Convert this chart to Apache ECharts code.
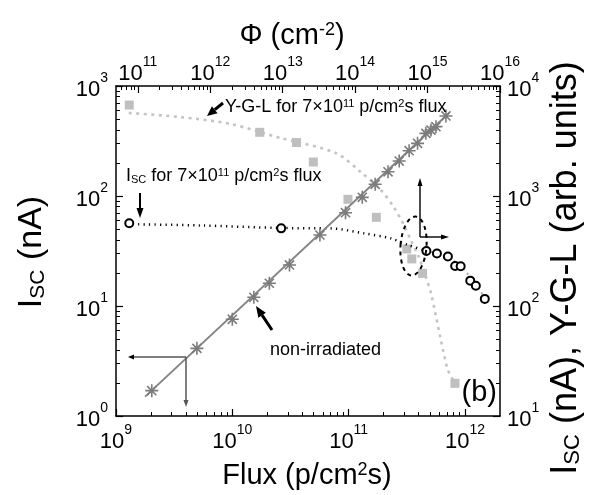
<!DOCTYPE html>
<html><head><meta charset="utf-8">
<script src="https://cdn.jsdelivr.net/npm/echarts@6/dist/echarts.min.js"></script>
<style>html,body{margin:0;padding:0;background:#fff}#c{width:589px;height:495px}</style>
</head><body><div id="c"></div>
<script>
const FF = 'Liberation Sans, Arial, sans-serif';

// ---- data ----
// non-irradiated Isc (asterisks), left axis
const fluxNonIrr = [2.03e9, 4.96e9, 1.0e10, 1.53e10, 2.08e10, 3.1e10, 5.66e10, 9.4e10, 1.31e11, 1.69e11, 2.18e11, 2.72e11, 3.31e11, 3.91e11, 4.61e11, 5.1e11, 5.63e11, 6.86e11];
const iscNonIrr  = [1.70, 4.12, 7.57, 12.0, 16.1, 23.6, 44.2, 70.5, 97.2, 127.7, 166, 208, 258, 301, 371, 398, 427, 534];
// linear fit through the non-irradiated points
const fitFlux = [1.78e9, 7.3e11];
const fitIsc  = [1.5, 569];
// Isc for 7x10^11 p/cm2s flux (open circles), left axis
const fluxIrr = [1.30e9, 2.63e10, 4.66e11, 5.74e11, 7.13e11, 8.23e11, 9.18e11, 1.11e12, 1.24e12, 1.48e12];
const iscIrr  = [56.5, 50.8, 31.6, 30.0, 28.2, 23.1, 23.0, 17.0, 15.3, 11.6];
// guide curve for Isc (black dotted) and its tail (grey dotted)
const iscGuideFlux = [1.55e9, 5.3e9, 2.59e10, 7.0e10, 1.35e11, 2.3e11, 3.23e11, 4.61e11];
const iscGuideVal  = [55.3, 54.0, 51.2, 50.8, 45.8, 41.2, 35.9, 31.8];
const iscTailFlux  = [4.61e11, 7.13e11, 1.02e12, 1.49e12];
const iscTailVal   = [31.8, 27.9, 20.4, 11.8];
// Y-G-L (grey squares), right axis
const fluxYGL = [1.30e9, 1.72e10, 3.56e10, 4.97e10, 9.86e10, 1.73e11, 3.16e11, 3.49e11, 4.32e11, 8.2e11];
const ygl     = [6710, 3793, 3061, 2037, 933, 640, 330, 268, 198, 19.8];
// guide curve for Y-G-L (grey dotted)
const yglGuideFlux = [1.29e9, 3.56e9, 9.6e9, 2.59e10, 7.73e10, 1.27e11, 1.89e11, 2.44e11, 2.92e11, 3.42e11, 4.01e11, 4.61e11, 5.1e11, 6.21e11, 7.13e11, 8.2e11];
const yglGuideVal  = [5690, 5220, 4520, 3368, 2460, 1652, 1135, 794, 569, 398, 279, 183, 131, 49, 26.2, 19.9];

// ---- axes ----
const bottomRange = [1e9, 2e12];
const topRange = [5e10, 1e16];
const leftRange = [1, 1000];
const rightRange = [10, 10000];
const bottomTicks = [1e9, 1e10, 1e11, 1e12];
const topTicks = [1e11, 1e12, 1e13, 1e14, 1e15, 1e16];
const leftTicks = [1, 10, 100, 1000];
const rightTicks = [10, 100, 1000, 10000];

function minors(lo, hi) {
  const out = [];
  for (let e = Math.floor(Math.log10(lo)) - 1; e <= Math.ceil(Math.log10(hi)); e++) {
    for (let k = 2; k <= 9; k++) {
      const v = k * Math.pow(10, e);
      if (v > lo * 1.0001 && v < hi * 0.9999) out.push(v);
    }
  }
  return out;
}
const supFmt = v => '{b|10}{s|' + Math.round(Math.log10(v)) + '}';
const richLab = {
  b: {fontSize: 22, fontFamily: FF, color: '#000', lineHeight: 30, verticalAlign: 'bottom'},
  s: {fontSize: 14, fontFamily: FF, color: '#000', lineHeight: 12, verticalAlign: 'top'}
};

function axesPair(pos, range, major, margin) {
  const base = {type: 'log', position: pos, min: range[0], max: range[1], gridIndex: 0,
    splitLine: {show: false}, minorTick: {show: false}, minorSplitLine: {show: false}};
  const a = Object.assign({}, base, {
    axisLine: {show: true, lineStyle: {color: '#000', width: 1.5}},
    axisTick: {show: true, inside: true, length: 7, customValues: major, lineStyle: {color: '#000', width: 1.2}},
    axisLabel: {show: true, customValues: major, formatter: supFmt, rich: richLab, margin: margin}
  });
  const b = Object.assign({}, base, {
    axisLine: {show: false},
    axisTick: {show: true, inside: true, length: 4, customValues: minors(range[0], range[1]), lineStyle: {color: '#000', width: 1}},
    axisLabel: {show: false}
  });
  return [a, b];
}

const xAxes = [...axesPair('bottom', bottomRange, bottomTicks, 7), ...axesPair('top', topRange, topTicks, 1)];
const yAxes = [...axesPair('left', leftRange, leftTicks, 8), ...axesPair('right', rightRange, rightTicks, 7)];

const zip = (a, b) => a.map((v, i) => [v, b[i]]);
const star = 'path://M0 5 L10 5 M5 0 L5 10 M1.5 1.5 L8.5 8.5 M8.5 1.5 L1.5 8.5';

const series = [
  {type: 'line', xAxisIndex: 0, yAxisIndex: 2, data: zip(yglGuideFlux, yglGuideVal), smooth: 0.3,
   showSymbol: false, lineStyle: {color: '#c4c4c4', width: 2.6, type: [3, 4.5]}, z: 1},
  {type: 'line', xAxisIndex: 0, yAxisIndex: 2, data: zip(fluxYGL, ygl), symbol: 'rect', symbolSize: 9,
   itemStyle: {color: '#bfbfbf'}, lineStyle: {width: 0}, z: 2},
  {type: 'line', xAxisIndex: 0, yAxisIndex: 0, data: zip(iscGuideFlux, iscGuideVal), smooth: 0.3,
   showSymbol: false, lineStyle: {color: '#000', width: 2.5, type: [1.2, 4.3]}, z: 3},
  {type: 'line', xAxisIndex: 0, yAxisIndex: 0, data: zip(iscTailFlux, iscTailVal), smooth: 0.3,
   showSymbol: false, lineStyle: {color: '#b0b0b0', width: 2, type: [2, 4]}, z: 3},
  {type: 'line', xAxisIndex: 0, yAxisIndex: 0, data: zip(fitFlux, fitIsc), showSymbol: false,
   lineStyle: {color: '#858585', width: 2}, z: 4},
  {type: 'line', xAxisIndex: 0, yAxisIndex: 0, data: zip(fluxNonIrr, iscNonIrr), symbol: star, symbolSize: 13,
   itemStyle: {color: 'rgba(0,0,0,0)', borderColor: '#7c7c7c', borderWidth: 1.6}, lineStyle: {width: 0}, z: 5},
  {type: 'line', xAxisIndex: 0, yAxisIndex: 0, data: zip(fluxIrr, iscIrr), symbol: 'emptyCircle', symbolSize: 8,
   itemStyle: {color: '#000', borderColor: '#000', borderWidth: 1.5}, lineStyle: {width: 0}, z: 6}
];

function arrow(x1, y1, x2, y2, color, w, hl, hw) {
  const ang = Math.atan2(y2 - y1, x2 - x1);
  const bx = x2 - hl * Math.cos(ang), by = y2 - hl * Math.sin(ang);
  const px = -Math.sin(ang) * hw / 2, py = Math.cos(ang) * hw / 2;
  return [
    {type: 'line', shape: {x1: x1, y1: y1, x2: bx, y2: by}, style: {stroke: color, lineWidth: w}, z: 100},
    {type: 'polygon', shape: {points: [[x2, y2], [bx + px, by + py], [bx - px, by - py]]}, style: {fill: color}, z: 100}
  ];
}
const txt = (x, y, rich, size, extra) => Object.assign({type: 'text', x: x, y: y, z: 100,
  style: Object.assign({text: rich.text, rich: rich.rich, fontSize: size, fontFamily: FF, fill: '#000'}, extra || {})});

const ann = (size) => ({
  a: {fontSize: size, fontFamily: FF, color: '#000'},
  s: {fontSize: Math.round(size * 0.62), fontFamily: FF, color: '#000', verticalAlign: 'top', lineHeight: Math.round(size * 0.62)},
  d: {fontSize: Math.round(size * 0.62), fontFamily: FF, color: '#000', verticalAlign: 'bottom', lineHeight: Math.round(size * 0.62)}
});

const graphics = [
  // axis titles
  txt(307, 476, {text: '{a|Flux (p/cm}{s|2}{a|s)}', rich: ann(29)}, 29, {align: 'center', verticalAlign: 'middle'}),
  txt(292, 36, {text: '{a|\u03A6 (cm}{s|-2}{a|)}', rich: ann(29)}, 29, {align: 'center', verticalAlign: 'middle'}),
  Object.assign(txt(32, 252, {text: '{a|I}{d|SC}{a| (nA)}', rich: ann(34)}, 34, {align: 'center', verticalAlign: 'middle'}), {rotation: Math.PI / 2}),
  Object.assign(txt(566, 268, {text: '{a|I}{d|SC}{a| (nA), Y-G-L (arb. units)}', rich: ann(36)}, 36, {align: 'center', verticalAlign: 'middle'}), {rotation: Math.PI / 2}),
  // annotations
  txt(225, 107, {text: '{a|Y-G-L for 7\u00D710}{s|11}{a| p/cm}{s|2}{a|s flux}', rich: ann(18)}, 18, {align: 'left', verticalAlign: 'middle'}),
  txt(126, 176, {text: '{a|I}{d|SC}{a| for 7\u00D710}{s|11}{a| p/cm}{s|2}{a|s flux}', rich: ann(18)}, 18, {align: 'left', verticalAlign: 'middle'}),
  txt(270, 350, {text: '{a|non-irradiated}', rich: ann(18)}, 18, {align: 'left', verticalAlign: 'middle'}),
  txt(497, 393, {text: '{a|(b)}', rich: ann(29)}, 29, {align: 'right', verticalAlign: 'middle'}),
  // arrows
  ...arrow(223, 103, 207, 116, '#000', 3, 10, 9),
  ...arrow(140, 193, 140, 218, '#000', 2, 10, 7),
  ...arrow(272, 330, 256, 306, '#000', 3, 11, 9),
  ...arrow(186, 357, 128, 357, '#000', 1.2, 6, 5),
  ...arrow(186, 357, 186, 407, '#555', 1.5, 7, 5),
  ...arrow(420, 237, 420, 178, '#000', 1.4, 8, 5),
  ...arrow(420, 237, 449, 237, '#000', 1.4, 8, 5),
  // dashed ellipse
  {type: 'ellipse', x: 413.5, y: 246, rotation: -0.075, shape: {cx: 0, cy: 0, rx: 13, ry: 29.5},
   style: {fill: 'none', stroke: '#000', lineWidth: 2, lineDash: [4, 4]}, z: 100}
];

const chart = echarts.init(document.getElementById('c'), null, {renderer: 'canvas'});
chart.setOption({
  animation: false,
  backgroundColor: '#fff',
  grid: {left: 116, top: 86, width: 384, height: 330, containLabel: false, outerBoundsMode: 'none'},
  xAxis: xAxes,
  yAxis: yAxes,
  series: series,
  graphic: graphics
});
</script></body></html>
